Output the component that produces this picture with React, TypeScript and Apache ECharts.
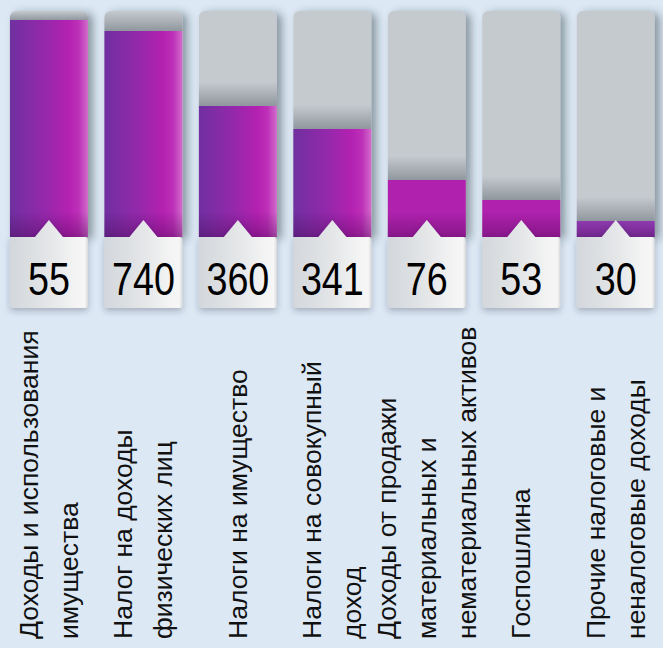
import React, { useEffect, useRef } from "react";
import * as echarts from "echarts";

const categories = [
  "Доходы и использования\nимущества",
  "Налог на доходы\nфизических лиц",
  "Налоги на имущество",
  "Налоги на совокупный\nдоход",
  "Доходы от продажи\nматериальных и\nнематериальных активов",
  "Госпошлина",
  "Прочие налоговые и\nненалоговые доходы",
];
const valueLabels = ["55", "740", "360", "341", "76", "53", "30"];
const fillLevels = [96, 91.2, 58, 47.8, 25.2, 16.4, 7.1];

const purpleGradient = {
  type: "linear",
  x: 0,
  y: 0,
  x2: 1,
  y2: 0,
  colorStops: [
    { offset: 0, color: "#7030a0" },
    { offset: 0.45, color: "#9528ab" },
    { offset: 0.75, color: "#b421b1" },
    { offset: 0.88, color: "#bd30b8" },
    { offset: 1, color: "#d26bcb" },
  ],
};
const barColors = [purpleGradient, purpleGradient, purpleGradient, purpleGradient, "#b022ae", "#b022ae", "#8e3ab0"];

const BAR_W = 78;

function renderItem(params: any, api: any) {
  const i = api.value(0);
  const level = api.value(1);
  const base = api.coord([i, 0]);
  const cx = base[0];
  const y0 = base[1];
  const top = api.coord([i, level])[1];
  const gtop = api.coord([i, 100])[1];
  const L = cx - BAR_W / 2;
  const R = cx + BAR_W / 2;
  const shTop = Math.max(gtop, top - 24);
  const dkTop = Math.max(top, y0 - 26);
  const boxH = 71;
  const notchW = 14;
  const notchH = 17;
  return {
    type: "group",
    children: [
      {
        type: "rect",
        shape: { x: L, y: shTop, width: BAR_W, height: top - shTop, r: shTop <= gtop + 0.5 ? [6, 6, 0, 0] : 0 },
        style: {
          fill: {
            type: "linear",
            x: 0,
            y: 0,
            x2: 0,
            y2: 1,
            colorStops: [
              { offset: 0, color: "rgba(70,80,90,0)" },
              { offset: 1, color: "rgba(70,80,90,0.42)" },
            ],
          },
        },
      },
      {
        type: "rect",
        shape: { x: L, y: dkTop, width: BAR_W, height: y0 - dkTop },
        style: {
          fill: {
            type: "linear",
            x: 0,
            y: 0,
            x2: 0,
            y2: 1,
            colorStops: [
              { offset: 0, color: "rgba(60,0,70,0)" },
              { offset: 1, color: "rgba(60,0,70,0.35)" },
            ],
          },
        },
      },
      {
        type: "polygon",
        shape: {
          points: [
            [L, y0 + 2],
            [L + 2, y0],
            [cx - notchW, y0],
            [cx, y0 - notchH],
            [cx + notchW, y0],
            [R - 2, y0],
            [R, y0 + 2],
            [R, y0 + boxH - 2],
            [R - 2, y0 + boxH],
            [L + 2, y0 + boxH],
            [L, y0 + boxH - 2],
          ],
        },
        style: {
          fill: {
            type: "linear",
            x: 0,
            y: 0,
            x2: 1,
            y2: 0,
            colorStops: [
              { offset: 0, color: "#d3d7db" },
              { offset: 0.5, color: "#e4e6e8" },
              { offset: 0.85, color: "#f4f4f4" },
              { offset: 0.96, color: "#f6f6f6" },
              { offset: 1, color: "#d9dadb" },
            ],
          },
          shadowColor: "rgba(40,50,70,0.3)",
          shadowBlur: 6,
          shadowOffsetY: 3,
        },
      },
      {
        type: "text",
        x: cx,
        y: y0 + 42,
        scaleX: 0.82,
        style: {
          text: valueLabels[params.dataIndex],
          fill: "#000",
          fontSize: 46,
          fontFamily: "'Liberation Sans', Arial, sans-serif",
          align: "center",
          verticalAlign: "middle",
        },
      },
    ],
  };
}

export default function App() {
  const ref = useRef<HTMLDivElement>(null);
  useEffect(() => {
    const chart = echarts.init(ref.current!, undefined, { renderer: "svg" });
    chart.setOption({
      animation: false,
      backgroundColor: "#dce8f4",
      grid: { left: 1.7, width: 669.2, top: 11, height: 226 },
      xAxis: {
        type: "category",
        data: categories,
        axisLine: { show: false },
        axisTick: { show: false },
        axisLabel: {
          interval: 0,
          rotate: 90,
          align: "left",
          verticalAlign: "middle",
          margin: 402,
          fontSize: 26.5,
          lineHeight: 40,
          color: "#111",
          fontFamily: "'Liberation Sans', Arial, sans-serif",
        },
      },
      yAxis: { type: "value", min: 0, max: 100, show: false },
      series: [
        {
          type: "bar",
          data: fillLevels.map((v, i) => ({ value: v, itemStyle: { color: barColors[i] } })),
          barWidth: BAR_W,
          showBackground: true,
          backgroundStyle: {
            color: "#c5cacf",
            borderRadius: [6, 6, 0, 0],
            shadowColor: "rgba(40,50,60,0.45)",
            shadowBlur: 8,
            shadowOffsetX: 5,
            shadowOffsetY: 2,
          },
        },
        {
          type: "custom",
          renderItem,
          clip: false,
          z: 5,
          data: categories.map((c, i) => [i, fillLevels[i]]),
        },
      ],
    });
    return () => chart.dispose();
  }, []);
  return <div ref={ref} style={{ position: "fixed", left: 0, top: 0, width: 663, height: 648 }} />;
}
